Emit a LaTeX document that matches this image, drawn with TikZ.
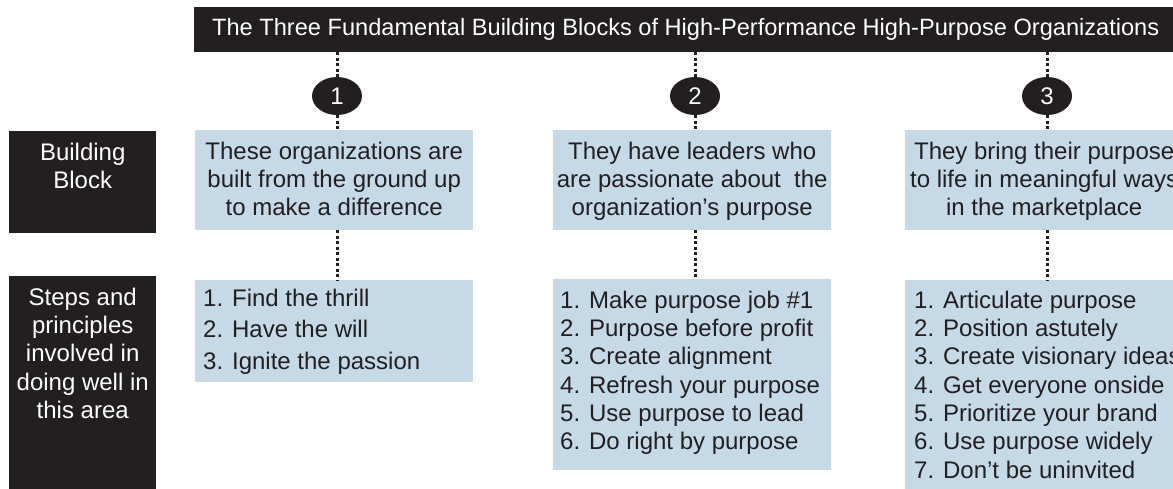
\documentclass[tikz,border=0pt]{standalone}
\usepackage{fontspec}
\setmainfont{Liberation Sans}
\usepackage{tikz}
\usetikzlibrary{positioning}
\usetikzlibrary{shapes.geometric}
\definecolor{inkblk}{RGB}{35,31,32}
\definecolor{paleblue}{RGB}{197,217,230}
% width, height, first strut, line skip, alignment, text
\newcommand{\cellbox}[6]{\parbox[t][#2][t]{#1}{\fontsize{24}{#4}\selectfont\parindent=0pt #5\relax\rule{0pt}{#3}#6}}

\begin{document}
\begin{tikzpicture}[x=1pt, y=-1pt]
% -------------------------------------------------
\tikzset{
  dark/.style={fill=inkblk, text=white, inner sep=0pt, anchor=north west},
  pale/.style={fill=paleblue, text=inkblk, inner sep=0pt, anchor=north west},
  numdot/.style={ellipse, fill=inkblk, text=white, inner sep=0pt,
    minimum width=50pt, minimum height=38pt, font=\fontsize{24}{28}\selectfont},
  dots/.style={draw=inkblk, line width=3pt, dash pattern=on 3pt off 2.5pt}
}
\useasboundingbox (0,0) rectangle (1173,488);
% -------------------------------------------------
% Title bar and row labels

\node [dark, minimum height=45pt, inner xsep=18pt, font=\fontsize{23.6}{28}\selectfont] (ttl) at (194,7)
  {The Three Fundamental Building Blocks of High-Performance High-Purpose Organizations};

\node [dark] (rowa) at (9,131) {\cellbox{147pt}{102pt}{29pt}{28.3pt}{\centering}{Building\\Block}};
\node [dark] (rowb) at (9,276) {\cellbox{147pt}{220pt}{29pt}{28.3pt}{\centering}{Steps and\\principles\\involved in\\doing well in\\this area}};

% -------------------------------------------------
% Numbers

\node [numdot] (n1) at (337,96) {1};
\node [numdot] (n2) at (695,96) {2};
\node [numdot] (n3) at (1047,96) {3};

% -------------------------------------------------
% Building blocks

\node [pale] (bb1) at (195,130) {\cellbox{278pt}{100pt}{29pt}{28.3pt}{\centering}{These organizations are\\built from the ground up\\to make a difference}};
\node [pale] (bb2) at (553,130) {\cellbox{278pt}{100pt}{29pt}{28.3pt}{\centering}{They have leaders who\\are passionate about~ the\\organization’s purpose}};
\node [pale] (bb3) at (905,130) {\cellbox{278pt}{100pt}{29pt}{28.3pt}{\centering}{They bring their purpose\\to life in meaningful ways\\in the marketplace}};

% -------------------------------------------------
% Steps and principles

\node [pale] (lb1) at (195,280) {\cellbox{278pt}{102pt}{26pt}{31.7pt}{\raggedright\leftskip=8pt}{1. Find the thrill\\2. Have the will\\3. Ignite the passion}};
\node [pale] (lb2) at (553,279) {\cellbox{278pt}{191pt}{29pt}{28.3pt}{\raggedright\leftskip=7pt}{1. Make purpose job \#1\\2. Purpose before profit\\3. Create alignment\\4. Refresh your purpose\\5. Use purpose to lead\\6. Do right by purpose}};
\node [pale] (lb3) at (905,280) {\cellbox{278pt}{220pt}{28pt}{28.3pt}{\raggedright\leftskip=9pt}{1. Articulate purpose\\2. Position astutely\\3. Create visionary ideas\\4. Get everyone onside\\5. Prioritize your brand\\6. Use purpose widely\\7. Don’t be uninvited}};

% -------------------------------------------------
% Dotted links

\draw [dots] (ttl.south -| n1) -- (n1.north);
\draw [dots] (ttl.south -| n2) -- (n2.north);
\draw [dots] (ttl.south -| n3) -- (n3.north);
\draw [dots] (n1.south) -- (bb1.north -| n1);
\draw [dots] (n2.south) -- (bb2.north -| n2);
\draw [dots] (n3.south) -- (bb3.north -| n3);
\draw [dots] (bb1.south -| n1) -- (lb1.north -| n1);
\draw [dots] (bb2.south -| n2) -- (lb2.north -| n2);
\draw [dots] (bb3.south -| n3) -- (lb3.north -| n3);

\end{tikzpicture}
\end{document}
